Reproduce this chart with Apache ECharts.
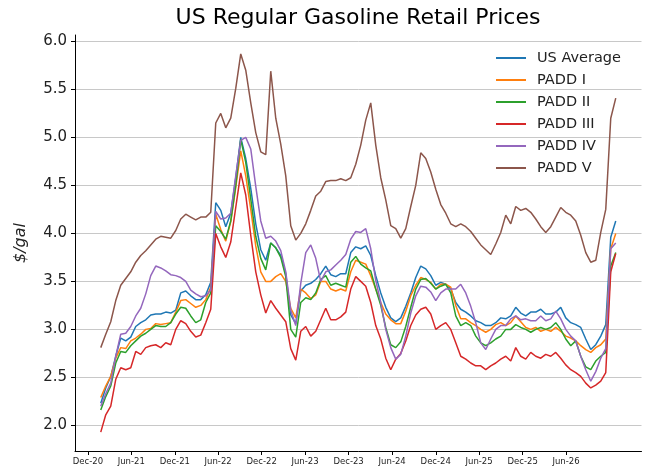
<!DOCTYPE html>
<html><head><meta charset="utf-8">
<script src="https://cdn.jsdelivr.net/npm/echarts@6/dist/echarts.min.js"></script>
<style>html,body{margin:0;padding:0;background:#fff}#c{width:648px;height:468px}</style>
</head><body><div id="c"></div>
<script>
// ---- data ----
const startDate = '2021-01-24';
const stepDays = 21;
const seriesNames = ['US Average', 'PADD I', 'PADD II', 'PADD III', 'PADD IV', 'PADD V'];
const seriesColors = ['#1f77b4', '#ff7f0e', '#2ca02c', '#d62728', '#9467bd', '#8c564b'];

const usAverage = [2.23,2.39,2.51,2.72,2.91,2.88,2.92,3.03,3.07,3.10,3.15,3.16,3.16,3.18,3.17,3.20,3.38,3.40,3.35,3.31,
3.31,3.36,3.49,4.32,4.24,4.07,4.21,4.58,5.00,4.78,4.47,4.10,3.83,3.72,3.90,3.85,3.77,3.58,3.15,3.06,
3.40,3.46,3.48,3.52,3.58,3.66,3.57,3.55,3.58,3.58,3.80,3.86,3.84,3.87,3.77,3.56,3.38,3.23,3.12,3.08,
3.12,3.24,3.38,3.54,3.66,3.63,3.56,3.46,3.49,3.47,3.42,3.28,3.21,3.18,3.14,3.09,3.07,3.04,3.04,3.07,
3.12,3.11,3.14,3.23,3.17,3.14,3.18,3.18,3.21,3.16,3.16,3.18,3.23,3.12,3.07,3.05,3.02,2.90,2.79,2.84,
2.93,3.05,3.96,4.13];
const padd1 = [2.29,2.41,2.51,2.70,2.81,2.80,2.88,2.91,2.95,3.00,3.01,3.06,3.05,3.06,3.07,3.18,3.30,3.31,3.27,3.23,
3.25,3.31,3.44,4.20,4.04,3.92,4.12,4.48,4.86,4.60,4.25,3.87,3.60,3.50,3.50,3.55,3.58,3.50,3.22,3.12,
3.42,3.38,3.32,3.36,3.50,3.50,3.42,3.40,3.42,3.40,3.60,3.72,3.70,3.68,3.56,3.42,3.28,3.16,3.10,3.06,
3.06,3.19,3.35,3.46,3.54,3.52,3.49,3.42,3.47,3.47,3.44,3.25,3.11,3.11,3.07,3.04,3.00,2.97,3.00,3.05,
3.07,3.04,3.07,3.14,3.08,3.02,3.00,3.02,2.98,3.00,2.98,3.02,2.98,2.93,2.91,2.88,2.83,2.79,2.76,2.81,
2.84,2.90,3.84,4.00];
const padd2 = [2.16,2.30,2.41,2.65,2.77,2.76,2.83,2.88,2.93,2.96,3.00,3.04,3.03,3.03,3.07,3.16,3.23,3.22,3.14,3.07,
3.10,3.28,3.38,4.08,4.02,3.94,4.13,4.50,4.98,4.74,4.36,3.97,3.74,3.62,3.90,3.85,3.75,3.55,3.00,2.92,
3.28,3.33,3.31,3.38,3.52,3.56,3.46,3.48,3.46,3.44,3.70,3.76,3.68,3.64,3.61,3.42,3.25,3.02,2.84,2.81,
2.87,3.03,3.23,3.42,3.52,3.53,3.48,3.42,3.45,3.47,3.38,3.14,3.04,3.07,3.04,2.93,2.86,2.83,2.86,2.90,
2.93,3.00,3.00,3.05,3.02,3.00,2.97,3.00,3.02,3.00,3.02,3.07,3.00,2.90,2.83,2.88,2.72,2.61,2.58,2.67,
2.72,2.76,3.66,3.80];
const padd3 = [1.93,2.11,2.20,2.48,2.60,2.58,2.60,2.77,2.74,2.81,2.83,2.84,2.81,2.86,2.84,3.00,3.09,3.06,2.98,2.92,
2.94,3.07,3.21,4.00,3.86,3.75,3.91,4.27,4.63,4.40,3.98,3.60,3.36,3.17,3.30,3.22,3.15,3.08,2.80,2.68,
2.98,3.03,2.93,2.98,3.10,3.22,3.10,3.10,3.13,3.18,3.42,3.55,3.50,3.45,3.28,3.04,2.90,2.70,2.58,2.69,
2.75,2.88,3.04,3.15,3.21,3.23,3.16,3.00,3.04,3.07,3.00,2.86,2.72,2.69,2.65,2.62,2.62,2.58,2.62,2.65,
2.69,2.72,2.67,2.81,2.72,2.69,2.76,2.72,2.70,2.74,2.72,2.76,2.70,2.63,2.58,2.55,2.51,2.44,2.39,2.42,
2.46,2.55,3.60,3.79];
const padd4 = [2.20,2.33,2.44,2.72,2.95,2.96,3.03,3.14,3.22,3.37,3.56,3.66,3.64,3.61,3.57,3.56,3.54,3.50,3.41,3.37,
3.34,3.35,3.41,4.23,4.15,4.16,4.21,4.60,4.97,5.00,4.88,4.49,4.13,3.95,3.97,3.92,3.82,3.60,3.20,3.04,
3.48,3.80,3.88,3.74,3.50,3.60,3.62,3.67,3.72,3.78,3.94,4.02,4.01,4.05,3.84,3.51,3.28,3.00,2.81,2.69,
2.74,2.93,3.17,3.35,3.45,3.44,3.39,3.30,3.38,3.42,3.42,3.42,3.47,3.38,3.24,3.07,2.86,2.79,2.90,3.00,
3.04,3.04,3.11,3.14,3.10,3.11,3.09,3.09,3.14,3.09,3.11,3.19,3.11,3.00,2.93,2.88,2.72,2.58,2.46,2.56,
2.70,2.80,3.84,3.90];
const padd5 = [2.81,2.95,3.08,3.30,3.46,3.53,3.60,3.70,3.77,3.82,3.88,3.94,3.97,3.96,3.95,4.03,4.15,4.20,4.17,4.14,
4.17,4.17,4.22,5.15,5.25,5.10,5.20,5.51,5.87,5.70,5.36,5.05,4.85,4.82,5.69,5.20,4.93,4.60,4.08,3.93,
4.00,4.10,4.24,4.39,4.44,4.54,4.55,4.55,4.57,4.55,4.58,4.72,4.92,5.18,5.36,4.92,4.58,4.35,4.08,4.05,
3.95,4.05,4.28,4.50,4.84,4.78,4.64,4.46,4.30,4.21,4.10,4.07,4.10,4.07,4.02,3.95,3.88,3.83,3.78,3.89,
4.01,4.19,4.10,4.28,4.24,4.26,4.22,4.15,4.07,4.01,4.07,4.17,4.27,4.22,4.19,4.13,3.98,3.80,3.70,3.72,
4.01,4.25,5.20,5.41];

const yTicks = [2.0, 2.5, 3.0, 3.5, 4.0, 4.5, 5.0, 5.5, 6.0];
const xTickDates = ['2020-12-01','2021-06-01','2021-12-01','2022-06-01','2022-12-01','2023-06-01',
  '2023-12-01','2024-06-01','2024-12-01','2025-06-01','2025-12-01','2026-06-01'];
const xTickLabels = ['Dec-20','Jun-21','Dec-21','Jun-22','Dec-22','Jun-23',
  'Dec-23','Jun-24','Dec-24','Jun-25','Dec-25','Jun-26'];

// ---- build ----
const DAY = 86400000;
const t0 = Date.parse(startDate + 'T00:00:00Z');
const allSeries = [usAverage, padd1, padd2, padd3, padd4, padd5];
const dates = usAverage.map((_, i) => t0 + i * stepDays * DAY);
const xTickValues = xTickDates.map(d => Date.parse(d + 'T00:00:00Z'));
const labelMap = {};
xTickValues.forEach((v, i) => { labelMap[v] = xTickLabels[i]; });

const chart = echarts.init(document.getElementById('c'), null, {renderer: 'canvas'});
const FONT = 'DejaVu Sans';
chart.setOption({
  animation: false,
  backgroundColor: '#ffffff',
  title: {
    text: 'US Regular Gasoline Retail Prices',
    left: 353, top: 2, textAlign: 'center',
    textStyle: {fontFamily: FONT, fontSize: 22, fontWeight: 'normal', color: '#000'}
  },
  legend: {
    orient: 'vertical', left: 491, top: 45,
    icon: 'rect', itemWidth: 30, itemHeight: 2, itemGap: 6,
    textStyle: {fontFamily: FONT, fontSize: 14.5, color: '#222', lineHeight: 16, padding: [0, 0, 0, 6]},
    data: seriesNames
  },
  grid: {left: 75, right: 6.5, top: 35, bottom: 17, containLabel: false, outerBoundsMode: 'none'},
  xAxis: {
    type: 'value',
    min: v => v.min - 0.05 * (v.max - v.min),
    max: v => v.max + 0.05 * (v.max - v.min),
    axisLine: {show: true, onZero: false, lineStyle: {color: '#000', width: 1}},
    axisTick: {show: true, length: 4, lineStyle: {color: '#000'}, customValues: xTickValues},
    axisLabel: {customValues: xTickValues, formatter: v => labelMap[v] || '', fontFamily: FONT, fontSize: 8.5, color: '#222', margin: 6},
    splitLine: {show: false}
  },
  yAxis: {
    type: 'value',
    min: v => v.min - 0.05 * (v.max - v.min),
    max: v => v.max + 0.05 * (v.max - v.min),
    name: '$/gal', nameLocation: 'middle', nameGap: 46, nameRotate: 90,
    nameTextStyle: {fontFamily: FONT, fontSize: 16, fontStyle: 'italic', color: '#222'},
    axisLine: {show: true, onZero: false, lineStyle: {color: '#000', width: 1}},
    axisTick: {show: true, length: 4, lineStyle: {color: '#000'}, customValues: yTicks},
    axisLabel: {customValues: yTicks, formatter: v => v.toFixed(1), fontFamily: FONT, fontSize: 15, color: '#222', margin: 8},
    splitLine: {show: true, lineStyle: {color: '#c8c8c8', width: 1}}
  },
  series: allSeries.map((arr, si) => ({
    name: seriesNames[si],
    type: 'line',
    showSymbol: false,
    symbol: 'none',
    color: seriesColors[si],
    lineStyle: {width: 1.5, color: seriesColors[si]},
    data: arr.map((v, i) => [dates[i], v])
  }))
});
</script></body></html>
